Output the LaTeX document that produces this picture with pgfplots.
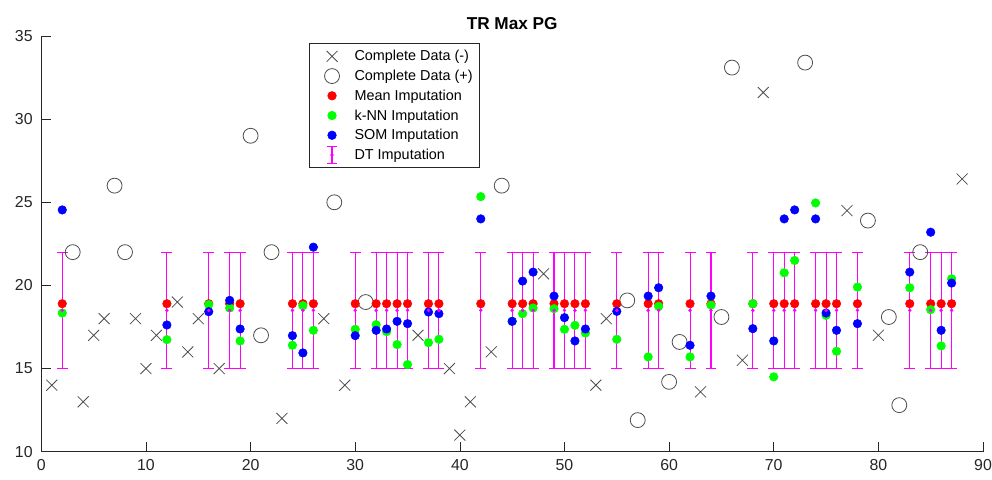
\documentclass[border=0pt]{standalone}
\usepackage{fontspec}
\setmainfont{Liberation Sans}
\usepackage{pgfplots}
\pgfplotsset{compat=1.18}
\usepackage{pgfplotstable}
\definecolor{mgreen}{rgb}{0,1,0}
\definecolor{mblue}{rgb}{0,0,1}
\definecolor{mred}{rgb}{1,0,0}
\definecolor{mmag}{rgb}{1,0,1}
\definecolor{mgray}{rgb}{0.30,0.30,0.30}
\definecolor{axgray}{rgb}{0.15,0.15,0.15}

\pgfplotstableread{
x y
1 14
4 13
5 17
6 18
9 18
10 15
11 17
13 19
14 16
15 18
17 15
23 12
27 18
29 14
36 17
39 15
40 11
41 13
43 16
48 20.7
53 14
54 18
63 13.6
67 15.5
69 31.6
77 24.5
80 17
88 26.4
}\crossdata

\pgfplotstableread{
x y
3 22
7 26
8 22
20 29
21 17
22 22
28 25
31 19
44 26
56 19.1
57 11.9
60 14.2
61 16.6
65 18.1
66 33.1
73 33.4
79 23.9
81 18.1
82 12.8
84 22
}\circdata

\pgfplotstableread{
x mean knn som dt dterr
2 18.9 18.34 24.54 18.5 3.5
12 18.9 16.74 17.62 18.5 3.5
16 18.9 18.85 18.42 18.5 3.5
18 18.9 18.64 19.10 18.5 3.5
19 18.9 16.66 17.38 18.5 3.5
24 18.9 16.40 16.98 18.5 3.5
25 18.9 18.78 15.94 18.5 3.5
26 18.9 17.30 22.30 18.5 3.5
30 18.9 17.36 16.98 18.5 3.5
32 18.9 17.64 17.30 18.5 3.5
33 18.9 17.22 17.38 18.5 3.5
34 18.9 16.44 17.84 18.5 3.5
35 18.9 15.24 17.70 18.5 3.5
37 18.9 16.56 18.40 18.5 3.5
38 18.9 16.76 18.30 18.5 3.5
42 18.9 25.34 24.00 18.5 3.5
45 18.9 17.84 17.84 18.5 3.5
46 18.9 18.30 20.26 18.5 3.5
47 18.9 18.64 20.80 18.5 3.5
49 18.9 18.60 19.36 18.5 3.5
50 18.9 17.36 18.06 18.5 3.5
51 18.9 17.60 16.66 18.5 3.5
52 18.9 17.14 17.38 18.5 3.5
55 18.9 16.76 18.44 18.5 3.5
58 18.9 15.70 19.36 18.5 3.5
59 18.9 18.74 19.86 18.5 3.5
62 18.9 15.70 16.40 18.5 3.5
64 18.9 18.82 19.36 18.5 3.5
68 18.9 18.90 17.40 18.5 3.5
70 18.9 14.50 16.66 18.5 3.5
71 18.9 20.76 24.00 18.5 3.5
72 18.9 21.50 24.54 18.5 3.5
74 18.9 24.96 24.00 18.5 3.5
75 18.9 18.20 18.34 18.5 3.5
76 18.9 16.04 17.30 18.5 3.5
78 18.9 19.90 17.70 18.5 3.5
83 18.9 19.86 20.80 18.5 3.5
85 18.9 18.54 23.20 18.5 3.5
86 18.9 16.36 17.30 18.5 3.5
87 18.9 20.40 20.14 18.5 3.5
}\impdata

\begin{document}
\begin{tikzpicture}
\begin{axis}[
  name=ax,
  scale only axis,
  width=706.3pt, height=311.8pt,
  xmin=0, xmax=90, ymin=10, ymax=35,
  xtick={0,10,...,90}, ytick={10,15,...,35},
  axis x line*=bottom, axis y line*=left,
  tick align=inside,
  major tick length=7pt,
  axis line style={axgray, line width=0.5pt},
  tick style={axgray, line width=0.5pt},
  ticklabel style={font=\fontsize{11.9}{14}\selectfont, text=axgray},
  xticklabel style={yshift=-2.5pt},
  yticklabel style={xshift=-3pt},
  /pgf/number format/assume math mode=true,
  title={TR Max PG},
  title style={font=\bfseries\fontsize{12.9}{15}\selectfont, anchor=base, at={(0.5,1)}, yshift=-1.1pt},
  legend cell align=left,
  legend style={at={(0.284,0.982)}, anchor=north west, draw=axgray, line width=0.5pt,
    font=\fontsize{10.8}{13}\selectfont, fill=white, inner xsep=3pt, inner ysep=2pt,
    nodes={inner sep=2pt, text height=8.8pt, text depth=2pt}},
  legend image code/.code={\path (-13.9pt,0pt) (14.6pt,0pt); \draw[#1] plot coordinates {(0pt,0pt)};},
]
\addplot[only marks, mark=x, mark size=5.8pt, mgray, line width=0.6pt] table[x=x,y=y]{\crossdata};
\addlegendentry{Complete Data (-)}
\addplot[only marks, mark=o, mark size=5.6pt, mgray, line width=0.6pt] table[x=x,y=y]{\circdata};
\addlegendentry{Complete Data (+)}
\addplot[only marks, mark=*, mark size=3.2pt, mred, mark options={draw=mred, fill=mred}] table[x=x,y=mean]{\impdata};
\addlegendentry{Mean Imputation}
\addplot[only marks, mark=*, mark size=3.2pt, mgreen, mark options={draw=mgreen, fill=mgreen}] table[x=x,y=knn]{\impdata};
\addlegendentry{k-NN Imputation}
\addplot[only marks, mark=*, mark size=3.2pt, mblue, mark options={draw=mblue, fill=mblue}] table[x=x,y=som]{\impdata};
\addlegendentry{SOM Imputation}
\addplot[only marks, mark=*, mark size=1.1pt, mmag, mark options={draw=mmag, fill=mmag},
  legend image code/.code={
    \path (-13.9pt,0pt) (14.6pt,0pt);
    \draw[mmag, line width=0.8pt] (0pt,-6.4pt) -- (0pt,6.4pt);
    \draw[mmag, line width=0.8pt] (-3.5pt,6.4pt) -- (3.5pt,6.4pt);
    \draw[mmag, line width=0.8pt] (-3.5pt,-6.4pt) -- (3.5pt,-6.4pt);
    \fill[mmag] (0pt,0pt) circle (1.1pt);
  },
  error bars/.cd, y dir=both, y explicit,
  error bar style={mmag, line width=0.8pt},
  error mark options={mmag, rotate=90, mark size=4.1pt, line width=0.8pt},
  ] table[x=x, y=dt, y error=dterr]{\impdata};
\addlegendentry{DT Imputation}
\end{axis}
\pgfresetboundingbox
\path[use as bounding box] ([shift={(-31pt,-21.2pt)}]ax.south west) rectangle ([shift={(6.75pt,27pt)}]ax.north east);
\end{tikzpicture}
\end{document}
